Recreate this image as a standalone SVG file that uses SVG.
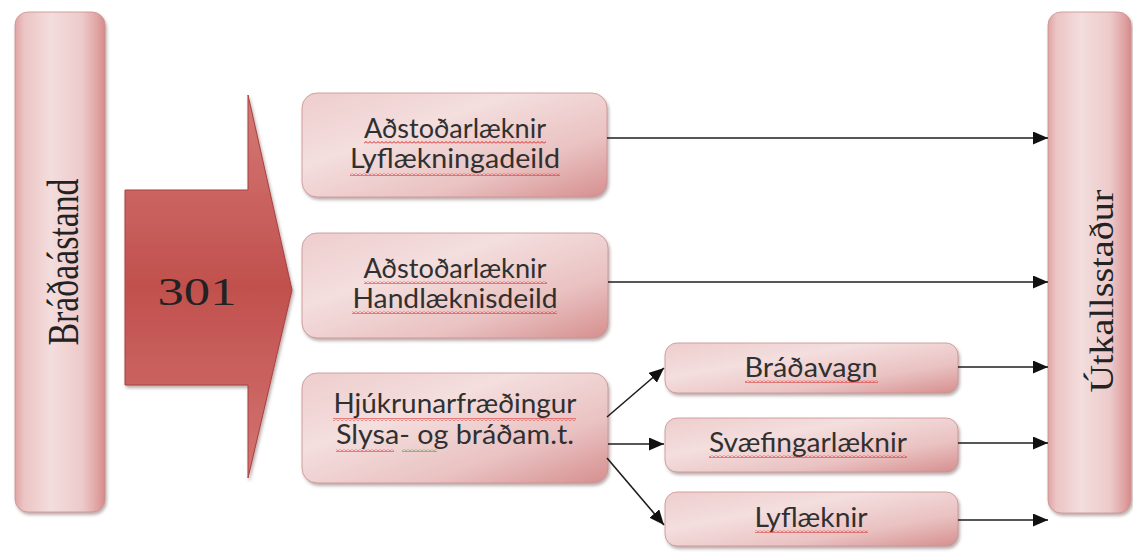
<svg xmlns="http://www.w3.org/2000/svg" width="1133" height="553" viewBox="0 0 1133 553">
<defs>
  <linearGradient id="barGrad" x1="0" y1="0" x2="1" y2="0">
    <stop offset="0" stop-color="#dfa4a4"/>
    <stop offset="0.1" stop-color="#ecc4c4"/>
    <stop offset="0.4" stop-color="#f4dddd"/>
    <stop offset="0.75" stop-color="#eccaca"/>
    <stop offset="0.93" stop-color="#df9f9f"/>
    <stop offset="1" stop-color="#d48a8a"/>
  </linearGradient>
  <linearGradient id="boxGrad" x1="0" y1="0" x2="1" y2="1">
    <stop offset="0" stop-color="#eecdcd"/>
    <stop offset="0.35" stop-color="#f4dede"/>
    <stop offset="0.7" stop-color="#eac2c2"/>
    <stop offset="1" stop-color="#d68f8f"/>
  </linearGradient>
  <linearGradient id="arrowGrad" x1="0" y1="0" x2="0" y2="1">
    <stop offset="0" stop-color="#d47a77"/>
    <stop offset="0.5" stop-color="#c1504d"/>
    <stop offset="1" stop-color="#d27572"/>
  </linearGradient>
  <filter id="shadow" x="-10%" y="-10%" width="125%" height="130%">
    <feDropShadow dx="1.5" dy="2.5" stdDeviation="1.5" flood-color="#6b4b4b" flood-opacity="0.45"/>
  </filter>
  <pattern id="squigR" width="4" height="3" patternUnits="userSpaceOnUse">
    <path d="M0,2.5 L2,0.5 L4,2.5" fill="none" stroke="#d82020" stroke-width="1"/>
  </pattern>
  <pattern id="squigG" width="4" height="3" patternUnits="userSpaceOnUse">
    <path d="M0,2.5 L2,0.5 L4,2.5" fill="none" stroke="#2a9a2a" stroke-width="1"/>
  </pattern>
  <marker id="ah" markerWidth="15" markerHeight="13" refX="15" refY="6.5" orient="auto" markerUnits="userSpaceOnUse">
    <path d="M0,0 L15,6.5 L0,13 z" fill="#111"/>
  </marker>
  <style>
    .bar { fill: url(#barGrad); stroke: #c99090; stroke-width: 0.8; filter: url(#shadow); }
    .box { fill: url(#boxGrad); stroke: #c89090; stroke-width: 0.8; filter: url(#shadow); }
    .serif { font-family: "Liberation Serif", "Times New Roman", serif; fill: #222; }
    .lbl { font-family: Lato, "Open Sans", "Liberation Sans", sans-serif; font-size: 27px; fill: #303030; text-anchor: middle; }
    .conn { stroke: #1e1e1e; stroke-width: 1.6; fill: none; marker-end: url(#ah); }
    .sqr { fill: url(#squigR); }
    .sqg { fill: url(#squigG); }
  </style>
</defs>

<g id="bradaastand">
  <rect class="bar" x="15" y="12" width="90" height="500" rx="13"/>
  <text class="serif" transform="translate(78,262) rotate(-90)" x="0" y="0" font-size="45" text-anchor="middle" textLength="167" lengthAdjust="spacingAndGlyphs">Bráðaástand</text>
</g>

<g id="utkallsstadur">
  <rect class="bar" x="1048" y="12" width="83" height="501" rx="13"/>
  <text class="serif" transform="translate(1113,291) rotate(-90)" x="0" y="0" font-size="33" text-anchor="middle" textLength="203" lengthAdjust="spacingAndGlyphs">Útkallsstaður</text>
</g>

<g id="arrow301">
  <polygon points="125,190 248,190 248,95 292,290 248,478 248,385 125,385" fill="url(#arrowGrad)" stroke="#a8413f" stroke-width="1" filter="url(#shadow)"/>
  <text class="serif" x="197" y="305" font-size="41" text-anchor="middle" textLength="79" lengthAdjust="spacingAndGlyphs" fill="#1a0808">301</text>
</g>

<g id="node-lyflaekningadeild">
  <rect class="box" x="302" y="93" width="305" height="104" rx="15"/>
  <text class="lbl" x="455" y="138" textLength="182" lengthAdjust="spacingAndGlyphs">Aðstoðarlæknir</text>
  <text class="lbl" x="455" y="168" textLength="210" lengthAdjust="spacingAndGlyphs">Lyflækningadeild</text>
  <rect class="sqr" x="364" y="141" width="182" height="3"/>
  <rect class="sqr" x="350" y="173" width="210" height="3"/>
</g>

<g id="node-handlaeknisdeild">
  <rect class="box" x="302" y="233" width="306" height="105" rx="15"/>
  <text class="lbl" x="455" y="278" textLength="183" lengthAdjust="spacingAndGlyphs">Aðstoðarlæknir</text>
  <text class="lbl" x="455" y="308" textLength="205" lengthAdjust="spacingAndGlyphs">Handlæknisdeild</text>
  <rect class="sqr" x="364" y="281" width="183" height="3"/>
  <rect class="sqr" x="352" y="311" width="205" height="3"/>
</g>

<g id="node-hjukrunarfraedingur">
  <rect class="box" x="302" y="373" width="306" height="110" rx="15"/>
  <text class="lbl" x="455" y="413" font-size="26" textLength="243" lengthAdjust="spacingAndGlyphs">Hjúkrunarfræðingur</text>
  <text class="lbl" x="455" y="444" font-size="26" textLength="238" lengthAdjust="spacingAndGlyphs">Slysa- og bráðam.t.</text>
  <rect class="sqr" x="333" y="418" width="243" height="3"/>
  <rect class="sqr" x="336" y="449" width="58" height="3"/>
  <rect class="sqg" x="402" y="449" width="35" height="3"/>
</g>

<g id="node-bradavagn">
  <rect class="box" x="665" y="343" width="293" height="50" rx="12"/>
  <text class="lbl" x="811" y="377" textLength="133" lengthAdjust="spacingAndGlyphs">Bráðavagn</text>
  <rect class="sqr" x="745" y="380" width="133" height="3"/>
</g>

<g id="node-svaefingarlaeknir">
  <rect class="box" x="665" y="418" width="293" height="54" rx="12"/>
  <text class="lbl" x="808" y="452" textLength="198" lengthAdjust="spacingAndGlyphs">Svæfingarlæknir</text>
  <rect class="sqr" x="709" y="455" width="198" height="3"/>
</g>

<g id="node-lyflaeknir">
  <rect class="box" x="665" y="492" width="293" height="54" rx="12"/>
  <text class="lbl" x="811" y="527" textLength="113" lengthAdjust="spacingAndGlyphs">Lyflæknir</text>
  <rect class="sqr" x="755" y="530" width="113" height="3"/>
</g>

<g id="connectors">
  <line class="conn" x1="607" y1="138" x2="1048" y2="138"/>
  <line class="conn" x1="608" y1="282" x2="1048" y2="282"/>
  <line class="conn" x1="958" y1="367" x2="1048" y2="367"/>
  <line class="conn" x1="958" y1="443" x2="1048" y2="443"/>
  <line class="conn" x1="958" y1="520" x2="1048" y2="520"/>
  <line class="conn" x1="607" y1="417" x2="664" y2="368"/>
  <line class="conn" x1="608" y1="444" x2="664" y2="444"/>
  <line class="conn" x1="607" y1="458" x2="664" y2="525"/>
</g>
</svg>
